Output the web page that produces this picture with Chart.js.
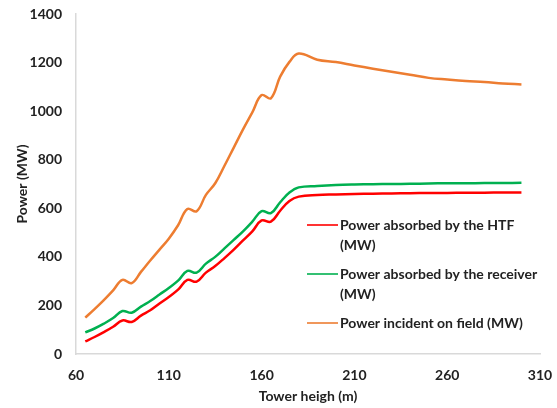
<!DOCTYPE html>
<html>
<head>
<meta charset="utf-8">
<script src="https://cdn.jsdelivr.net/npm/chart.js@4.4.1/dist/chart.umd.min.js"></script>
<style>
html,body{margin:0;padding:0;background:#fff;}
#wrap{position:relative;width:557px;height:408px;}
</style>
</head>
<body>
<div id="wrap"><canvas id="c" width="557" height="408"></canvas></div>
<script>
const heights = [65,70,75,80,85,90,95,100,105,110,115,120,125,130,135,140,145,150,155,160,165,170,175,180,190,200,210,220,230,240,250,260,270,280,290,300];
const htfPower = [52,70,90,112,138,132,158,180,208,235,265,305,298,335,362,395,430,468,505,550,545,590,630,648,655,657,659,660,661,662,663,663,664,664,665,665];
const receiverPower = [89,105,125,148,177,170,195,218,245,272,302,342,335,372,400,435,470,505,545,588,580,625,665,686,692,696,698,699,700,701,702,703,703,704,704,705];
const incidentPower = [150,185,222,262,305,292,338,385,430,475,530,597,588,655,703,775,850,925,995,1066,1053,1142,1203,1237,1212,1202,1188,1175,1162,1150,1137,1130,1124,1120,1114,1110];
const xTicks = [60,110,160,210,260,310];
const seriesLabels = [["Power absorbed by the HTF","(MW)"],["Power absorbed by the receiver","(MW)"],["Power incident on field (MW)"]];
const seriesColors = ["#ff0000","#00b050","#ed7d31"];

function pts(ys){ return heights.map((h,i)=>({x:h,y:ys[i]})); }

const FONT = "Lato";
const TXT = "#222222";
const FS = 14;

const legendPlugin = {
  id:'customLegend',
  afterDraw(chart){
    const ctx = chart.ctx;
    const x0 = 307, x1 = 338, tx = 340;
    const ys = [225, 274, 323];
    ctx.save();
    ctx.font = "bold " + FS + "px " + FONT;
    ctx.fillStyle = TXT;
    ctx.textBaseline = "middle";
    chart.data.datasets.forEach((ds,i)=>{
      ctx.strokeStyle = ds.borderColor;
      ctx.lineWidth = 1.6;
      ctx.beginPath(); ctx.moveTo(x0, ys[i]); ctx.lineTo(x1, ys[i]); ctx.stroke();
      const lines = seriesLabels[i];
      lines.forEach((t,j)=>{ ctx.fillText(t, tx, ys[i] + j*20); });
    });
    ctx.restore();
  }
};

new Chart(document.getElementById('c'), {
  type:'line',
  data:{
    datasets:[
      {label:seriesLabels[0].join(' '), data:pts(htfPower), borderColor:seriesColors[0]},
      {label:seriesLabels[1].join(' '), data:pts(receiverPower), borderColor:seriesColors[1]},
      {label:seriesLabels[2].join(' '), data:pts(incidentPower), borderColor:seriesColors[2]}
    ].map(d=>Object.assign(d,{borderWidth:2.5,pointRadius:0,tension:0.4,fill:false}))
  },
  options:{
    responsive:false,
    animation:false,
    layout:{padding:{top:14,right:17,left:0,bottom:0}},
    plugins:{legend:{display:false},tooltip:{enabled:false}},
    scales:{
      x:{
        type:'linear', min:60, max:310,
        afterBuildTicks(s){ s.ticks = xTicks.map(v=>({value:v})); },
        afterFit(s){ s.height = 54; s.paddingLeft = 0; s.paddingRight = 0; },
        grid:{display:false,drawTicks:false},
        border:{display:true,color:'#d9d9d9',width:1.5},
        ticks:{padding:13,color:TXT,font:{family:FONT,size:FS,weight:'bold'},maxRotation:0,callback:v=>String(v)},
        title:{display:true,text:'Tower heigh (m)',color:TXT,font:{family:FONT,size:FS,weight:'bold'},padding:{top:0,bottom:3}}
      },
      y:{
        min:0,max:1400,
        ticks:{stepSize:200,padding:14,color:TXT,font:{family:FONT,size:FS,weight:'bold'},callback:v=>String(v)},
        afterFit(s){ s.width = 76; s.paddingTop = 0; s.paddingBottom = 0; },
        grid:{display:false,drawTicks:false},
        border:{display:true,color:'#d9d9d9',width:1.5},
        title:{display:true,text:'Power (MW)',color:TXT,font:{family:FONT,size:FS,weight:'bold'},padding:{top:14,bottom:0}}
      }
    }
  },
  plugins:[legendPlugin]
});
</script>
</body>
</html>
